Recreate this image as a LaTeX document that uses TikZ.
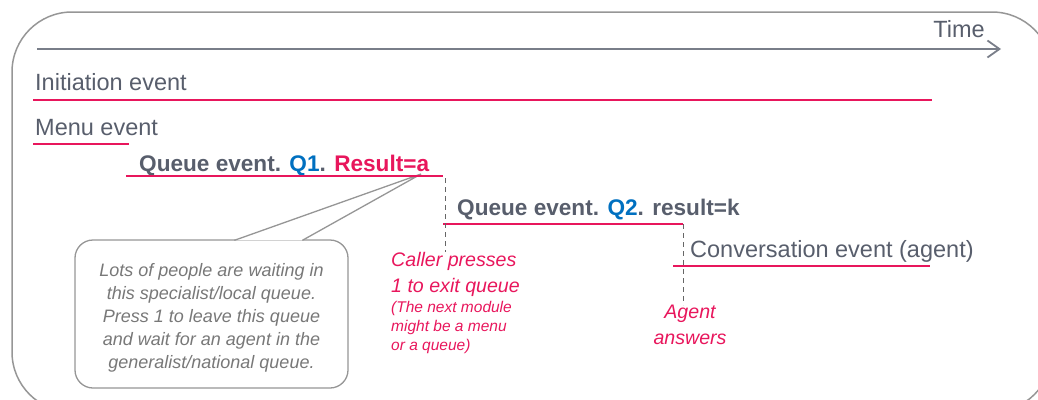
\documentclass[tikz,border=0pt]{standalone}
\usepackage{fontspec}
\setmainfont{Liberation Sans}
\usepackage{tikz}
\usetikzlibrary{calc,arrows.meta,positioning}
\definecolor{evred}{RGB}{232,22,92}
\definecolor{qblue}{RGB}{0,112,192}
\definecolor{slate}{RGB}{88,94,108}
\definecolor{notegrey}{RGB}{120,120,120}
\definecolor{framegrey}{RGB}{150,150,150}
\tikzset{evline/.style={evred,line width=2.8pt},markline/.style={black!60,line width=0.9pt,dash pattern=on 5pt off 4pt}}

\begin{document}
\begin{tikzpicture}[x=1pt,y=-1pt,inner sep=0pt]

\tikzset{evtext/.style={font=\fontsize{23.5}{28}\selectfont,text=slate},
evbold/.style={font=\fontsize{22.6}{27}\selectfont\bfseries,text=slate},
redtext/.style={font=\fontsize{19.6}{25.5}\selectfont\itshape,text=evred},
redsmall/.style={font=\fontsize{15.5}{19}\selectfont\itshape,text=evred},
notebox/.style={draw=framegrey,line width=1.3pt,rounded corners=18pt,fill=white,minimum width=273pt,minimum height=148pt},
notetext/.style={align=center,text=notegrey,font=\fontsize{18}{23}\selectfont\itshape}}

% Frame
\useasboundingbox (0,0) rectangle (1038,399);
\begin{scope}
\clip (0,0) rectangle (1038,399);
\draw[framegrey,line width=1.5pt,rounded corners=60pt] (12,12) rectangle (1052,412);
\end{scope}

% Time axis
\coordinate (t0) at (37,49);
\coordinate (t1) at (1001,49);
\draw[slate!80,line width=1.8pt,-{Straight Barb[length=12pt,width=17pt]}] (t0) -- (t1);
\node[evtext,anchor=base east] (time) at (985,37) {Time};

% Callout
\node[notebox] (note) at (211.5,314) {};
\node[notetext,anchor=base] (notetxt) at (211.5,368) {Lots of people are waiting in\\this specialist/local queue.\\Press 1 to leave this queue\\and wait for an agent in the\\generalist/national queue.};
\coordinate (pA) at ($(note.north west)+(160,1)$);
\coordinate (pB) at ($(note.north west)+(228,1)$);
\coordinate (tip) at (421,174);
\fill[white] (pA) -- (tip) -- (pB) -- cycle;
\draw[framegrey,line width=1.3pt] (pA) -- (tip) -- (pB);

% Event names
\node[evtext,anchor=base west] (init) at (35,90) {Initiation event};
\node[evtext,anchor=base west] (menu) at (35,135) {Menu event};
\node[evbold,anchor=base west] (q1) at (139,171) {Queue event. \textcolor{qblue}{Q1}. \textcolor{evred}{Result=a}};
\node[evbold,anchor=base west] (q2) at (457,215) {Queue event. \textcolor{qblue}{Q2}. result=k};
\node[evtext,anchor=base west] (conv) at (690,257) {Conversation event (agent)};

% Event lines
\coordinate (i0) at (33,100); \coordinate (i1) at (932,100);
\coordinate (m0) at (33,144); \coordinate (m1) at (129,144);
\coordinate (a0) at (126,176); \coordinate (a1) at (443,176);
\coordinate (b0) at (443,224); \coordinate (b1) at (683,224);
\coordinate (c0) at (673,266); \coordinate (c1) at (930,266);
\draw[evline] (i0) -- (i1);
\draw[evline] (m0) -- (m1);
\draw[evline] (a0) -- (a1);
\draw[evline] (b0) -- (b1);
\draw[evline] (c0) -- (c1);

% Moments
\coordinate (qend) at (445,178);
\coordinate (press) at (445,252);
\coordinate (answer) at (683,305);
\draw[markline] (qend) -- (press);
\draw[markline] (b1) -- (answer);
\node[redtext,anchor=base west,align=left] (caller) at (391,292) {Caller presses\\1 to exit queue};
\node[redsmall,anchor=base west,align=left] (nextmod) at (391,350) {(The next module\\might be a menu\\or a queue)};
\node[redtext,anchor=base,align=center] (agent) at (690,344) {Agent\\answers};

\end{tikzpicture}
\end{document}
